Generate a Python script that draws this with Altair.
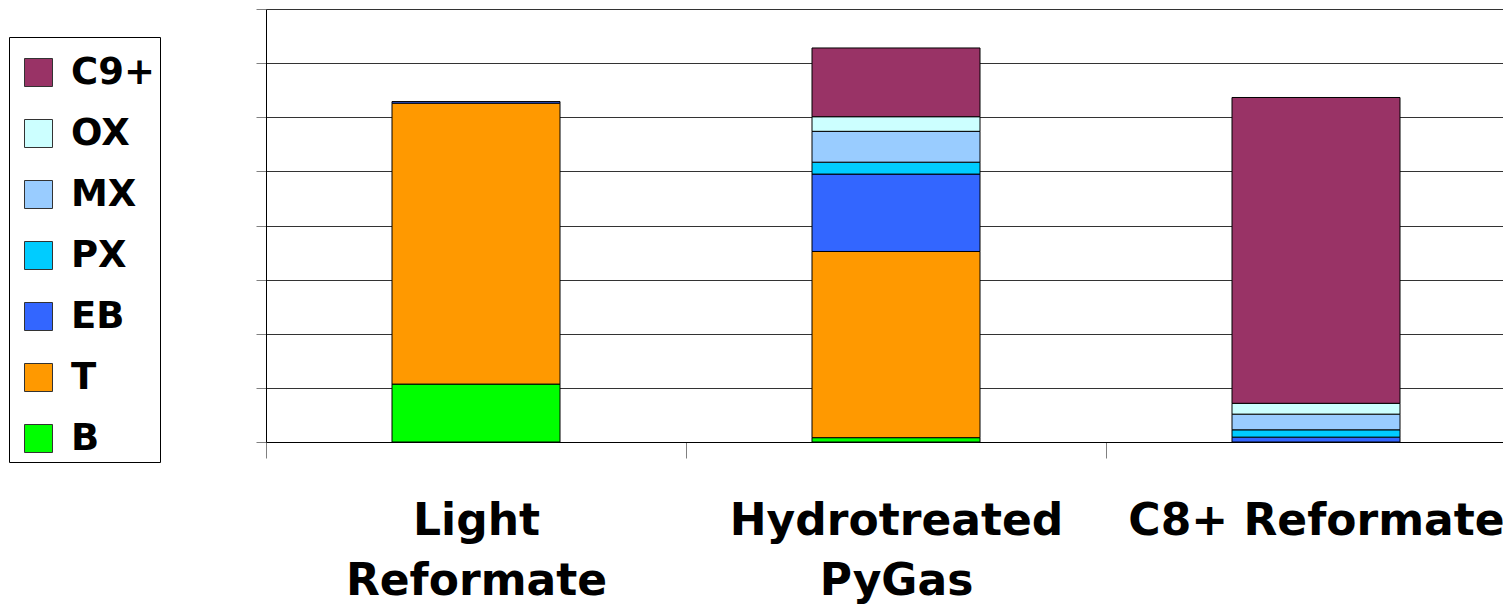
import altair as alt
import pandas as pd

categories = ["Light Reformate", "Hydrotreated PyGas", "C8+ Reformate"]
stack_order = ["B", "T", "EB", "PX", "MX", "OX", "C9+"]  # bottom -> top
legend_order = ["C9+", "OX", "MX", "PX", "EB", "T", "B"]
legend_colors = ["#993366", "#CCFFFF", "#99CCFF", "#00CCFF", "#3366FF", "#FF9900", "#00FF00"]

B = [10.7, 0.8, 0.0]
T = [51.9, 34.4, 0.0]
EB = [0.3, 14.3, 0.9]
PX = [0.0, 2.2, 1.35]
MX = [0.0, 5.7, 2.9]
OX = [0.0, 2.7, 2.0]
C9 = [0.0, 12.7, 56.5]

series = {"B": B, "T": T, "EB": EB, "PX": PX, "MX": MX, "OX": OX, "C9+": C9}

rows = []
for ci, cat in enumerate(categories):
    for si, comp in enumerate(stack_order):
        v = series[comp][ci]
        if v > 0:
            rows.append({"cat": cat, "comp": comp, "val": v, "idx": si})
df = pd.DataFrame(rows)

FONT = "DejaVu Sans"

label_expr = ("datum.label == 'C8+ Reformate' ? datum.label : split(datum.label, ' ')")

chart = alt.Chart(df).mark_bar(
    width=alt.RelativeBandSize(0.4), stroke="#000000", strokeWidth=1
).encode(
    x=alt.X(
        "cat:N",
        sort=categories,
        scale=alt.Scale(range=[0, 1260], paddingInner=0, paddingOuter=0),
        axis=alt.Axis(
            title=None, labelAngle=0, tickBand="extent", tickSize=16,
            tickColor="#808080", tickWidth=1, domainColor="#000000", domainWidth=1,
            labelFont=FONT, labelFontSize=44, labelFontWeight="bold",
            labelColor="#000000", labelPadding=41, labelLineHeight=60,
            labelExpr=label_expr, labelLimit=0, labelOverlap=False, grid=False,
        ),
    ),
    y=alt.Y(
        "val:Q",
        stack="zero",
        scale=alt.Scale(domain=[0, 80], nice=False),
        axis=alt.Axis(
            title=None, values=list(range(0, 81, 10)), labels=False,
            tickSize=10, tickColor="#808080", domainColor="#000000",
            grid=True, gridColor="#333333", gridWidth=1,
        ),
    ),
    color=alt.Color(
        "comp:N",
        scale=alt.Scale(domain=legend_order, range=legend_colors),
        legend=alt.Legend(
            title=" ", titleFontSize=8, titlePadding=4,
            orient="none", legendX=-257, legendY=28,
            direction="vertical", padding=5,
            strokeColor="#000000", fillColor="#FFFFFF",
            symbolType="square", symbolSize=784, symbolStrokeColor="#333333",
            symbolStrokeWidth=1, symbolOpacity=1, symbolOffset=6,
            labelFont=FONT, labelFontSize=37, labelFontWeight="bold",
            labelColor="#000000", labelOffset=14, rowPadding=23, labelLimit=0,
        ),
    ),
    order=alt.Order("idx:Q"),
).properties(
    width=1237,
    height=433,
    padding={"left": 258, "top": 1, "right": 0, "bottom": 164},
    autosize=alt.AutoSizeParams(type="none"),
).configure_view(stroke=None)

chart.save("out.html", embed_options={"renderer": "svg", "actions": False})
